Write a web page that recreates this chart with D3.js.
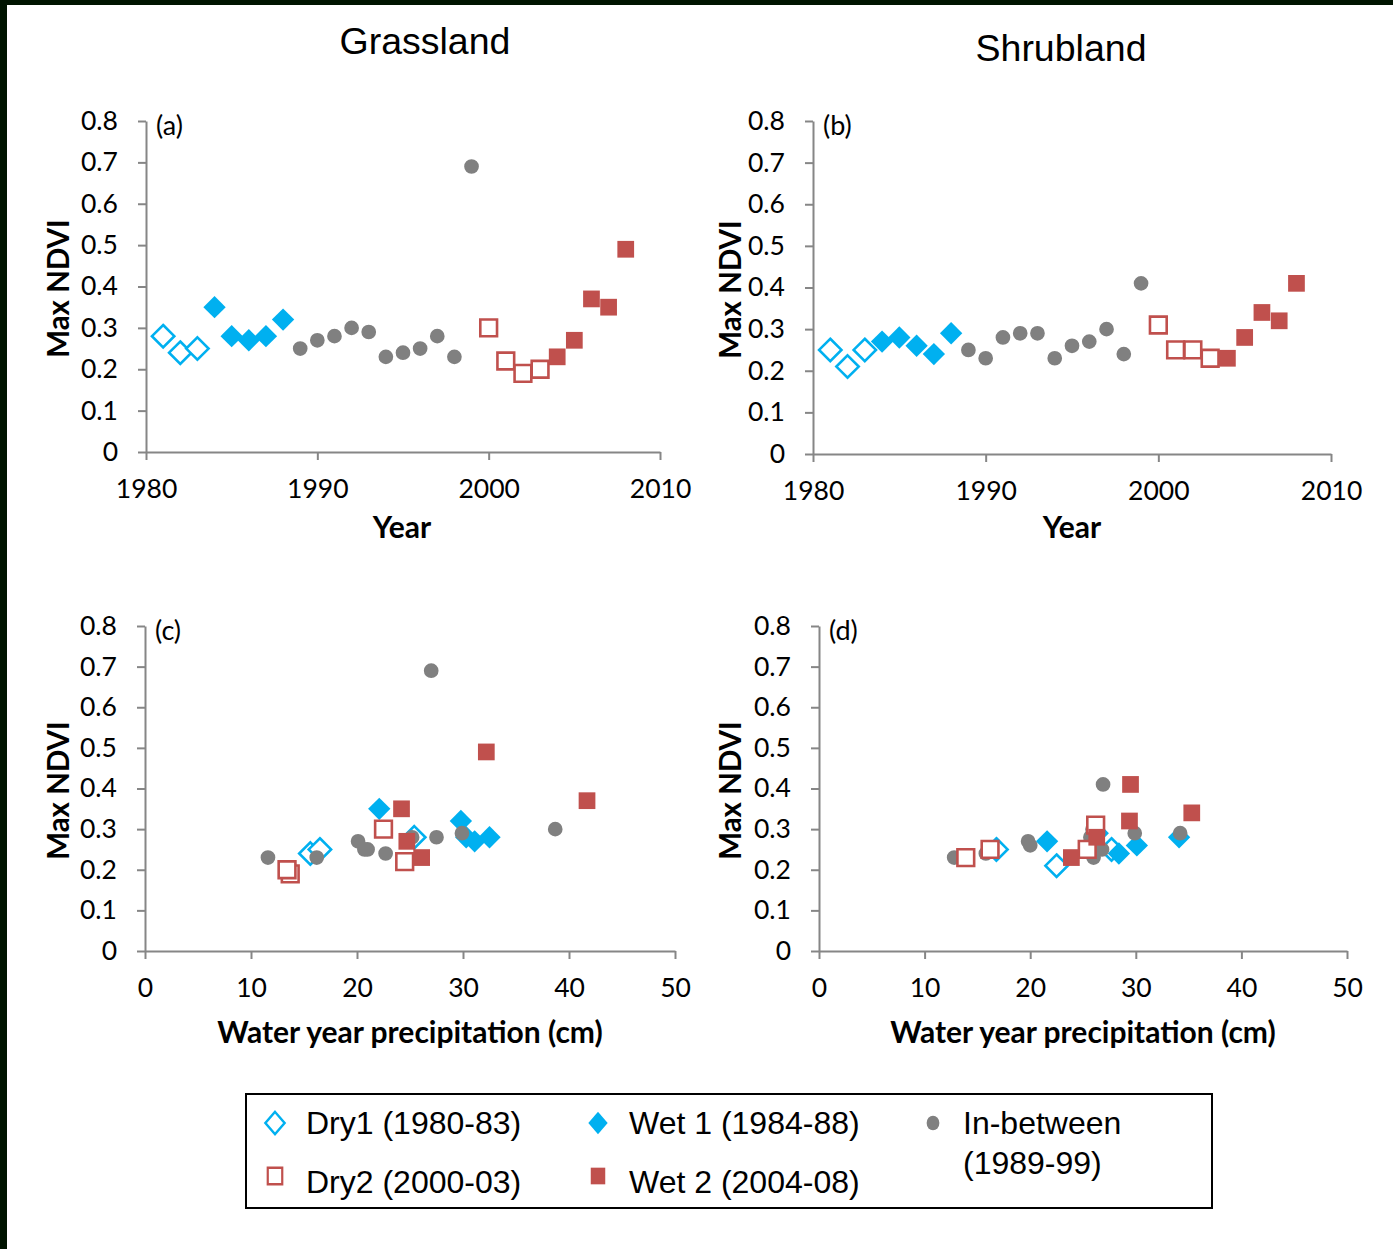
<!DOCTYPE html>
<html>
<head>
<meta charset="utf-8">
<script src="https://cdn.jsdelivr.net/npm/d3@7"></script>
<style>
  body { margin: 0; background: #fff; }
  svg { display: block; }
</style>
</head>
<body>
<div id="chart"></div>
<script>
// data
const years = [1981, 1982, 1983, 1984, 1985, 1986, 1987, 1988, 1989, 1990,
               1991, 1992, 1993, 1994, 1995, 1996, 1997, 1998, 1999, 2000,
               2001, 2002, 2003, 2004, 2005, 2006, 2007, 2008];

const grassNdvi = [0.28, 0.24, 0.25, 0.35, 0.28, 0.27, 0.28, 0.32, 0.25, 0.27,
                   0.28, 0.30, 0.29, 0.23, 0.24, 0.25, 0.28, 0.23, 0.69, 0.30,
                   0.22, 0.19, 0.20, 0.23, 0.27, 0.37, 0.35, 0.49];

const shrubNdvi = [0.25, 0.21, 0.25, 0.27, 0.28, 0.26, 0.24, 0.29, 0.25, 0.23,
                   0.28, 0.29, 0.29, 0.23, 0.26, 0.27, 0.30, 0.24, 0.41, 0.31,
                   0.25, 0.25, 0.23, 0.23, 0.28, 0.34, 0.32, 0.41];

// water year precipitation (cm)
const grassPrecip = [25.4, 15.6, 16.5, 22.1, 30.3, 31.1, 32.5, 29.8, 20.7, 20.1,
                     25.2, 38.7, 29.9, 11.6, 22.7, 21.0, 27.5, 16.2, 27.0, 22.5,
                     24.5, 13.7, 13.4, 26.1, 24.7, 41.7, 24.2, 32.2];

const shrubPrecip = [16.8, 22.5, 27.7, 21.6, 34.1, 30.1, 28.4, 26.4, 26.8, 12.8,
                     25.7, 29.9, 34.2, 26.0, 20.0, 19.8, 25.9, 15.8, 26.9, 26.2,
                     16.2, 25.4, 13.9, 23.9, 26.3, 35.3, 29.4, 29.5];

const periodNames = ["Dry1 (1980-83)", "Wet 1 (1984-88)", "In-between (1989-99)",
                     "Dry2 (2000-03)", "Wet 2 (2004-08)"];
const periodStart = [1980, 1984, 1989, 2000, 2004];
const periodEnd = [1983, 1988, 1999, 2003, 2008];

const ndviTicks = [0, 0.1, 0.2, 0.3, 0.4, 0.5, 0.6, 0.7, 0.8];
const yearTicks = [1980, 1990, 2000, 2010];
const precipTicks = [0, 10, 20, 30, 40, 50];

const BLUE = "#00B0F0", RED = "#C0504D", GREY = "#808080", AXIS = "#868686";

// marker style per period, same order as periodNames
const markerStyle = [
    { shape: "diamond", fill: "#fff", stroke: BLUE },
    { shape: "diamond", fill: BLUE, stroke: "none" },
    { shape: "circle", fill: GREY, stroke: "none" },
    { shape: "square", fill: "#fff", stroke: RED },
    { shape: "square", fill: RED, stroke: "none" }
];

const diamondType = {
    draw(ctx, size) {
        const h = Math.sqrt(size / 2);
        ctx.moveTo(0, -h);
        ctx.lineTo(h, 0);
        ctx.lineTo(0, h);
        ctx.lineTo(-h, 0);
        ctx.closePath();
    }
};

function symbolPath(shape, scale) {
    if (shape === "diamond") return d3.symbol(diamondType, 250 * scale)();
    if (shape === "square") return d3.symbol(d3.symbolSquare, 280 * scale)();
    return d3.symbol(d3.symbolCircle, 170 * scale)();
}

function periodOf(year) {
    for (let i = 0; i < periodStart.length; i++) {
        if (year >= periodStart[i] && year <= periodEnd[i]) return i;
    }
    return -1;
}

function main() {
    const width = 1393;
    const height = 1249;

    const svg = d3.select("#chart")
        .append("svg")
        .attr("width", width)
        .attr("height", height);

    svg.append("rect").attr("width", width).attr("height", height).attr("fill", "#fff");
    // dark frame at top and left
    svg.append("rect").attr("x", 0).attr("y", 0).attr("width", width).attr("height", 5).attr("fill", "#001400");
    svg.append("rect").attr("x", 0).attr("y", 0).attr("width", 7).attr("height", height).attr("fill", "#001400");

    // column titles
    svg.append("text").attr("x", 425).attr("y", 54).attr("text-anchor", "middle")
        .style("font-family", "'Liberation Sans', Arial, sans-serif").style("font-size", "37.5px")
        .text("Grassland");
    svg.append("text").attr("x", 1061).attr("y", 61).attr("text-anchor", "middle")
        .style("font-family", "'Liberation Sans', Arial, sans-serif").style("font-size", "37.5px")
        .text("Shrubland");

    const panels = [
        { label: "(a)", xs: years, ys: grassNdvi, xDomain: [1980, 2010], xTicks: yearTicks,
          left: 146, right: 660, top: 121, bottom: 452, xTitle: "Year", xTitleX: 402, xTitleY: 538, yTitleX: 69 },
        { label: "(b)", xs: years, ys: shrubNdvi, xDomain: [1980, 2010], xTicks: yearTicks,
          left: 813, right: 1331, top: 121, bottom: 454, xTitle: "Year", xTitleX: 1072, xTitleY: 538, yTitleX: 741 },
        { label: "(c)", xs: grassPrecip, ys: grassNdvi, xDomain: [0, 50], xTicks: precipTicks,
          left: 145, right: 675, top: 626, bottom: 951, xTitle: "Water year precipitation (cm)", xTitleX: 410, xTitleY: 1043, yTitleX: 69 },
        { label: "(d)", xs: shrubPrecip, ys: shrubNdvi, xDomain: [0, 50], xTicks: precipTicks,
          left: 819, right: 1347, top: 626, bottom: 951, xTitle: "Water year precipitation (cm)", xTitleX: 1083, xTitleY: 1043, yTitleX: 741 }
    ];

    const tickFont = "Lato, 'Open Sans', sans-serif";

    panels.forEach(p => {
        const x = d3.scaleLinear().domain(p.xDomain).range([p.left, p.right]);
        const y = d3.scaleLinear().domain([0, 0.8]).range([p.bottom, p.top]);
        const g = svg.append("g");

        const yAxis = g.append("g")
            .attr("transform", `translate(${p.left},0)`)
            .call(d3.axisLeft(y).tickValues(ndviTicks).tickSize(8).tickSizeOuter(0).tickPadding(20)
                .tickFormat(d => d === 0 ? "0" : d3.format(".1f")(d)));
        const xAxis = g.append("g")
            .attr("transform", `translate(0,${p.bottom})`)
            .call(d3.axisBottom(x).tickValues(p.xTicks).tickSize(8).tickSizeOuter(0).tickPadding(19)
                .tickFormat(d3.format("d")));

        [yAxis, xAxis].forEach(a => {
            a.selectAll("path, line").attr("stroke", AXIS).attr("stroke-width", 2);
            a.selectAll("text").attr("fill", "#000")
                .style("font-family", tickFont).style("font-size", "26.5px");
        });

        // panel letter
        g.append("text").attr("x", p.left + 10).attr("y", p.top + 14)
            .style("font-family", tickFont).style("font-size", "27px")
            .text(p.label);

        // axis titles
        g.append("text").attr("x", p.xTitleX).attr("y", p.xTitleY).attr("text-anchor", "middle")
            .style("font-family", tickFont).style("font-size", "30px").style("font-weight", "bold")
            .text(p.xTitle);
        g.append("text")
            .attr("transform", `translate(${p.yTitleX},${(p.top + p.bottom) / 2 + 2}) rotate(-90)`)
            .attr("text-anchor", "middle")
            .style("font-family", tickFont).style("font-size", "29.5px").style("font-weight", "bold")
            .text("Max NDVI");

        // points, one series per period
        periodNames.forEach((name, k) => {
            const st = markerStyle[k];
            const pts = years.map((yr, i) => ({ yr: yr, xv: p.xs[i], yv: p.ys[i] }))
                .filter(d => periodOf(d.yr) === k);
            g.selectAll(null)
                .data(pts)
                .enter()
                .append("path")
                .attr("d", symbolPath(st.shape, 1))
                .attr("transform", d => `translate(${x(d.xv)},${y(d.yv)})`)
                .attr("fill", st.fill)
                .attr("stroke", st.stroke)
                .attr("stroke-width", st.stroke === "none" ? 0 : 2.6);
        });
    });

    // legend
    const lg = svg.append("g");
    lg.append("rect").attr("x", 246).attr("y", 1094).attr("width", 966).attr("height", 114)
        .attr("fill", "#fff").attr("stroke", "#000").attr("stroke-width", 2);

    const legendX = [275, 598, 933, 275, 598];
    const legendY = [1123, 1123, 1123, 1176, 1176];
    const legendFont = "'Liberation Sans', Arial, sans-serif";
    periodNames.forEach((name, k) => {
        const st = markerStyle[k];
        lg.append("path")
            .attr("d", symbolPath(st.shape, 0.75))
            .attr("transform", `translate(${legendX[k]},${legendY[k]}) scale(1,1.15)`)
            .attr("fill", st.fill)
            .attr("stroke", st.stroke)
            .attr("stroke-width", st.stroke === "none" ? 0 : 2.2);
        const t = lg.append("text")
            .attr("x", legendX[k] + 31)
            .style("font-family", legendFont).style("font-size", "32px");
        if (k === 2) {
            t.append("tspan").attr("x", legendX[k] + 30).attr("y", 1134).text("In-between");
            t.append("tspan").attr("x", legendX[k] + 30).attr("y", 1174).text("(1989-99)");
        } else {
            t.attr("y", k < 3 ? 1134 : 1193).text(name);
        }
    });
}

main();
</script>
</body>
</html>
